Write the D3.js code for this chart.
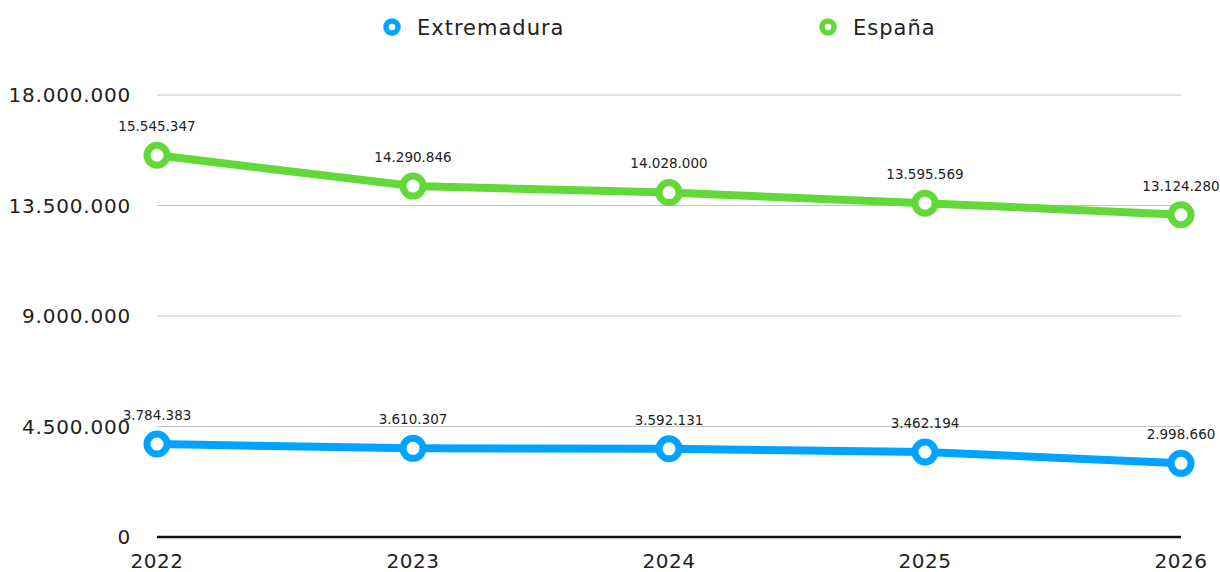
<!DOCTYPE html>
<html><head><meta charset="utf-8">
<script src="https://cdn.jsdelivr.net/npm/d3@7"></script>
<style>body{margin:0;background:#fff}svg{display:block}text{font-family:"DejaVu Sans",sans-serif;fill:#222}</style>
</head><body><svg id="c" width="1220" height="572"></svg>
<script>
const years = ["2022","2023","2024","2025","2026"];
const extremadura = [3784383, 3610307, 3592131, 3462194, 2998660];
const espana = [15545347, 14290846, 14028000, 13595569, 13124280];
const yTicks = [0, 4500000, 9000000, 13500000, 18000000];
const seriesNames = ["Extremadura", "España"];
const colors = ["#00A3FF", "#62D939"];

const svg = d3.select("#c");
const fmt = v => d3.format(",")(v).replace(/,/g, ".");
const x = d3.scalePoint().domain(years).range([157, 1181]);
const y = d3.scaleLinear().domain([0, 18000000]).range([537, 95]);

svg.append("g").selectAll("line").data(yTicks.slice(1)).join("line")
  .attr("x1", 157).attr("x2", 1181).attr("y1", d => y(d)).attr("y2", d => y(d))
  .attr("stroke", "#c4c4c4").attr("stroke-width", 1);
svg.append("line").attr("x1", 157).attr("x2", 1181).attr("y1", y(0)).attr("y2", y(0))
  .attr("stroke", "#111").attr("stroke-width", 2.5);

svg.append("g").selectAll("text").data(yTicks).join("text")
  .attr("x", 131).attr("y", d => y(d)).attr("dy", "0.36em").attr("text-anchor", "end")
  .attr("font-size", 20).attr("letter-spacing", 0.8).text(d => fmt(d));
svg.append("g").selectAll("text").data(years).join("text")
  .attr("x", d => x(d)).attr("y", 561).attr("dy", "0.36em").attr("text-anchor", "middle")
  .attr("font-size", 20).attr("letter-spacing", 0.5).text(d => d);

const all = [extremadura, espana];
const line = d3.line().x((d, i) => x(years[i])).y(d => y(d));
all.forEach((vals, k) => {
  const g = svg.append("g");
  g.append("path").attr("d", line(vals)).attr("fill", "none")
    .attr("stroke", colors[k]).attr("stroke-width", 8).attr("stroke-linejoin", "round");
  g.selectAll("circle").data(vals).join("circle")
    .attr("cx", (d, i) => x(years[i])).attr("cy", d => y(d)).attr("r", 10)
    .attr("fill", "#fff").attr("stroke", colors[k]).attr("stroke-width", 7);
  g.selectAll("text").data(vals).join("text")
    .attr("x", (d, i) => x(years[i])).attr("y", d => y(d) - 29).attr("dy", "0.36em")
    .attr("text-anchor", "middle").attr("font-size", 13.5).text(d => fmt(d));
});

const legX = [392, 828];
seriesNames.forEach((n, k) => {
  svg.append("circle").attr("cx", legX[k]).attr("cy", 27).attr("r", 6)
    .attr("fill", "#fff").attr("stroke", colors[k]).attr("stroke-width", 5.5);
  svg.append("text").attr("x", legX[k] + 25).attr("y", 27).attr("dy", "0.36em")
    .attr("font-size", 21).attr("letter-spacing", 1).text(n);
});
</script></body></html>
